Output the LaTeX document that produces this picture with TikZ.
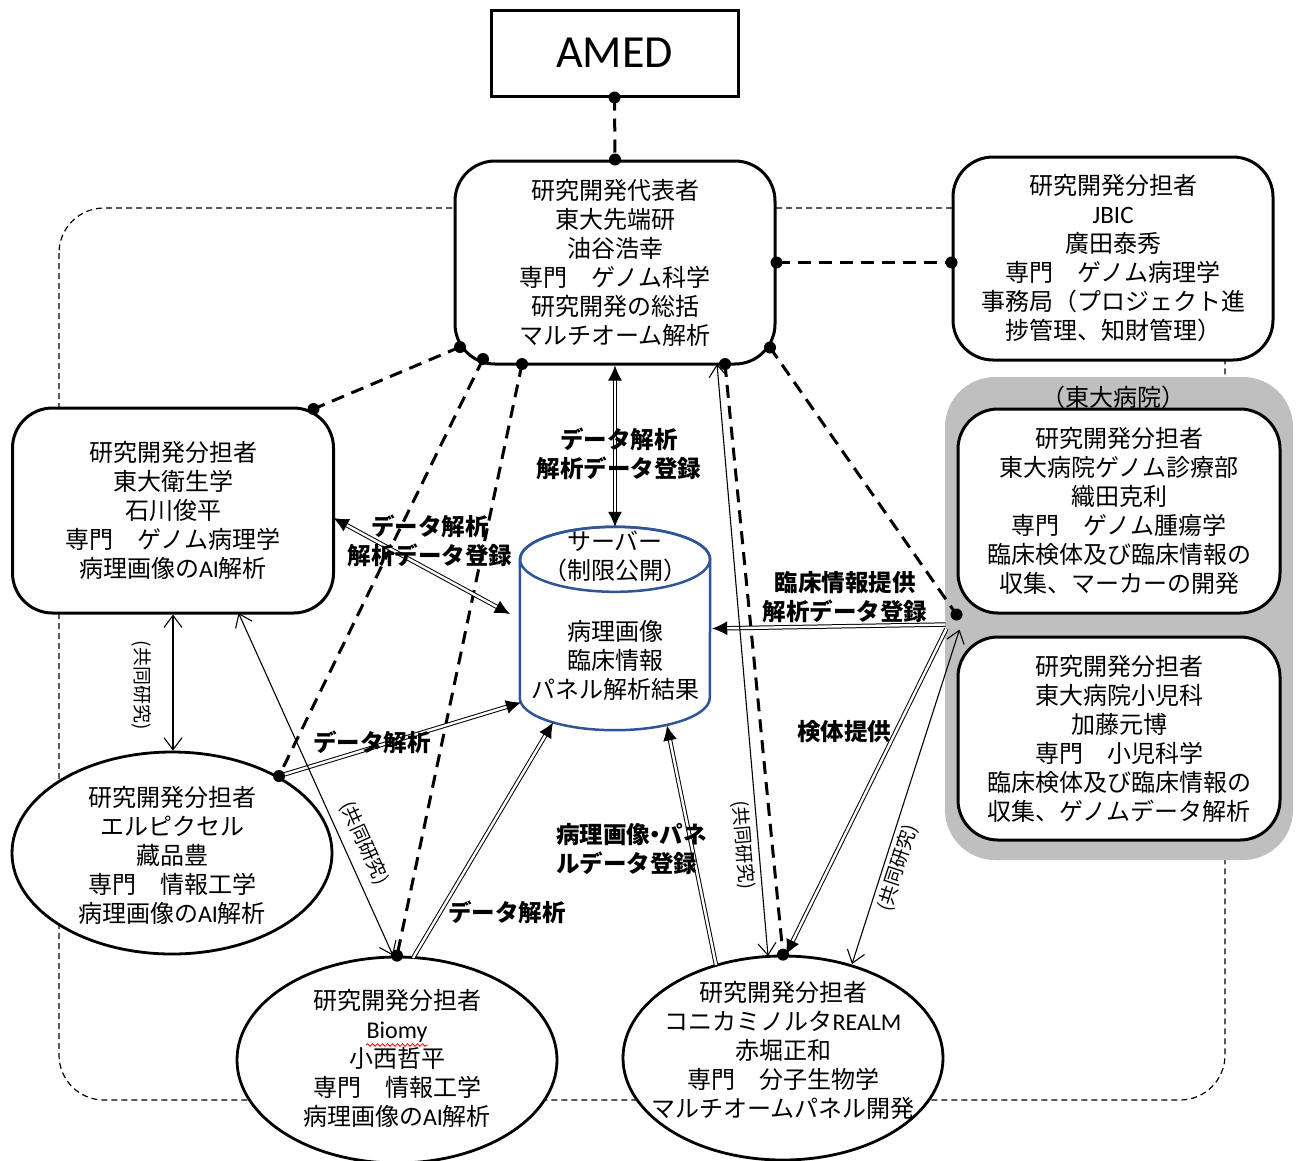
\documentclass[tikz,border=0pt]{standalone}
\usepackage{fontspec}
\setmainfont{Noto Sans CJK JP}
\newfontfamily\lat{Carlito}
\usetikzlibrary{arrows.meta,calc,shapes.geometric,decorations.pathmorphing}
\definecolor{srvblue}{RGB}{47,85,151}
\definecolor{grpgray}{RGB}{191,191,191}
\tikzset{
  box/.style={draw, line width=3pt, rounded corners=40pt, fill=white, align=center, inner sep=0pt, font=\fontsize{24}{29}\selectfont},
  ell/.style={draw, ellipse, line width=2.8pt, fill=white, inner sep=0pt, minimum width=320pt},
  txt/.style={align=center, inner sep=0pt, font=\fontsize{24}{29}\selectfont},
  lbl/.style={align=center, inner sep=0pt, font=\bfseries\fontsize{23.5}{29}\selectfont},
  kyo/.style={inner sep=0pt, font=\fontsize{19}{20}\selectfont},
  thickdash/.style={line width=3pt, dash pattern=on 13pt off 8pt},
  dbl/.style={draw, double, double distance=2.4pt, line width=1pt},
  tipA/.style={-{Latex[length=15pt,width=14pt]}},
  tipAA/.style={{Latex[length=15pt,width=14pt]}-{Latex[length=15pt,width=14pt]}},
  thinarrow/.style={line width=1.1pt, {Straight Barb[length=12pt,width=18pt]}-{Straight Barb[length=12pt,width=18pt]}},
  outerdash/.style={line width=1.2pt, dash pattern=on 6pt off 4pt, rounded corners=45pt},
}
\begin{document}
\begin{tikzpicture}[x=1pt,y=-1pt]
\useasboundingbox (0,0) rectangle (1298,1160);

% outer dashed frame
\draw[outerdash] (59,208) rectangle (1225,1100);

% grey group
\node[fill=grpgray, rounded corners=50pt, minimum width=348pt, minimum height=483pt, inner sep=0pt] (grp) at (1119,618.5) {};
\node[txt] (grplbl) at (1113,397) {（東大病院）};

% nodes
\node[draw, line width=3pt, fill=white, minimum width=247pt, minimum height=86pt, inner sep=0pt, font=\lat\fontsize{46}{46}\selectfont] (amed) at (614.5,53) {AMED};
\node[box, minimum width=320pt, minimum height=203pt] (pi) at (615,262.5)
  {研究開発代表者\\東大先端研\\油谷浩幸\\専門　ゲノム科学\\研究開発の総括\\マルチオーム解析};
\node[box, minimum width=320pt, minimum height=203pt] (jbic) at (1113,258.5)
  {研究開発分担者\\{\lat\fontsize{25}{29}\selectfont JBIC}\\廣田泰秀\\専門　ゲノム病理学\\事務局（プロジェクト進\\捗管理、知財管理）};
\node[box, minimum width=321pt, minimum height=205pt] (ish) at (173,510.5)
  {研究開発分担者\\東大衛生学\\石川俊平\\専門　ゲノム病理学\\病理画像の{\lat AI}解析};
\node[box, minimum width=322pt, minimum height=204pt] (oda) at (1119,511)
  {研究開発分担者\\東大病院ゲノム診療部\\織田克利\\専門　ゲノム腫瘍学\\臨床検体及び臨床情報の\\収集、マーカーの開発};
\node[box, minimum width=322pt, minimum height=203pt] (kato) at (1119,738.5)
  {研究開発分担者\\東大病院小児科\\加藤元博\\専門　小児科学\\臨床検体及び臨床情報の\\収集、ゲノムデータ解析};

% server cylinder
\node[minimum width=190pt, minimum height=203pt, inner sep=0pt] (srv) at (615,628.5) {};
\draw[srvblue, line width=2.5pt, fill=white]
  ($(srv.north west)+(0,32.5)$) -- ($(srv.south west)+(0,-32.5)$)
  arc[start angle=180, end angle=360, x radius=95pt, y radius=32.5pt]
  -- ($(srv.north east)+(0,32.5)$)
  arc[start angle=0, end angle=180, x radius=95pt, y radius=32.5pt] -- cycle;
\draw[srvblue, line width=2.5pt] ($(srv.north)+(0,32.5)$) ellipse [x radius=95pt, y radius=32.5pt];
\node[txt] (srvt1) at ($(srv.north)+(0,30)$) {サーバー\\（制限公開）};
\node[txt] (srvt2) at ($(srv.center)+(0,32)$) {病理画像\\臨床情報\\パネル解析結果};

% ellipses
\node[ell, minimum height=202pt] (kura) at (172,853) {};
\node[txt] (kurat) at (172,855) {研究開発分担者\\エルピクセル\\藏品豊\\専門　情報工学\\病理画像の{\lat AI}解析};
\node[ell, minimum height=206pt] (biomy) at (397,1060) {};
\node[txt] (biomyt) at (397,1058) {研究開発分担者\\{\lat Biomy}\\小西哲平\\専門　情報工学\\病理画像の{\lat AI}解析};
\draw[red, line width=0.8pt, decorate, decoration={snake, amplitude=1.3pt, segment length=5pt}]
  ($(biomy.center)+(-31,-15)$) -- ($(biomy.center)+(31,-15)$);
\node[ell, minimum height=204pt] (konica) at (783,1058) {};
\node[txt] (konicat) at (783,1050) {研究開発分担者\\コニカミノルタ{\lat REALM}\\赤堀正和\\専門　分子生物学\\マルチオームパネル開発};

% attach points
\coordinate (piA) at ($(pi.center)+(-155,84.5)$);
\coordinate (piB) at ($(pi.center)+(-132,96.5)$);
\coordinate (piC) at ($(pi.center)+(-93,101.5)$);
\coordinate (piD) at ($(pi.center)+(102,101.5)$);
\coordinate (piE) at ($(pi.center)+(110,101.5)$);
\coordinate (piF) at ($(pi.center)+(155,85)$);
\coordinate (ishA) at ($(ish.center)+(140.5,-101.5)$);
\coordinate (ishB) at ($(ish.center)+(160.5,7.5)$);
\coordinate (ishC) at ($(ish.center)+(65.5,102.5)$);
\coordinate (kuraA) at ($(kura.center)+(107,-77)$);
\coordinate (biomyA) at ($(biomy.center)+(16,-102)$);
\coordinate (biomyB) at ($(biomy.north)+(-4,0)$);
\coordinate (konA) at ($(konica.center)+(-67,-93)$);
\coordinate (konB) at ($(konica.center)+(-15,-102)$);
\coordinate (konC) at ($(konica.north)+(3,0)$);
\coordinate (konD) at ($(konica.center)+(69,-94)$);
\coordinate (grpA) at ($(oda.south west)+(-11,10)$);
\coordinate (grpB) at ($(kato.north west)+(-10,-7)$);
\coordinate (grpC) at ($(kato.north west)+(3,-6)$);
\coordinate (jbA) at (pi.east -| jbic.west);
\coordinate (srvA) at ($(srv.center)+(-105,-14.5)$);
\coordinate (srvB) at ($(srv.center)+(-94,74)$);
\coordinate (srvC) at ($(srv.center)+(-62,94)$);
\coordinate (srvD) at ($(srv.center)+(52,97)$);
\coordinate (srvE) at ($(srv.east)+(2,0)$);

% thick dashed links
\draw[thickdash] (amed.south) -- (pi.north);
\draw[thickdash] (pi.east) -- (jbA);
\draw[thickdash] (piA) -- (ishA);
\draw[thickdash] (piB) -- (kuraA);
\draw[thickdash] (piC) -- (biomy.north);
\draw[thickdash] (piE) -- (konica.north);
\draw[thickdash] (piF) -- (oda.south west);

% double arrows
\draw[dbl, tipAA] (pi.south) -- (srv.north);
\draw[dbl, tipAA] (ishB) -- (srvA);
\draw[dbl, tipA] (kuraA) -- (srvB);
\draw[dbl, tipA] (biomyA) -- (srvC);
\draw[dbl, tipA] (konA) -- (srvD);
\draw[dbl, tipA] (grpA) -- (srvE);
\draw[dbl, tipA] (grpB) -- (konC);

% thin joint-research arrows
\draw[thinarrow] (ish.south) -- (ish.south |- kura.north);
\draw[thinarrow] (ishC) -- (biomyB);
\draw[thinarrow] (piD) -- (konB);
\draw[thinarrow] (konD) -- (grpC);

% dots
\foreach \p in {amed.south, pi.north, pi.east, jbA, piA, ishA, piB, kuraA, piC, biomy.north, piE, konica.north, piF, oda.south west}
  \fill (\p) circle (6pt);

% labels
\node[lbl] (lH) at (619,454) {データ解析\\解析データ登録};
\node[lbl] (lI) at (430,540.5) {データ解析\\解析データ登録};
\node[lbl] (lL) at (372,742) {データ解析};
\node[lbl] (lM) at (507,912) {データ解析};
\node[lbl, align=left, anchor=west] (lN) at (556,849.5) {病理画像\kern-7pt・\kern-7ptパネ\\ルデータ登録};
\node[lbl] (lP) at (845,597) {臨床情報提供\\解析データ登録};
\node[lbl] (lQ) at (844,732) {検体提供};
\node[kyo, rotate=-90] (lJ) at (142,685) {(共同研究)};
\node[kyo, rotate=-65.7] (lK) at (364,843) {(共同研究)};
\node[kyo, rotate=-85.1] (lO) at (743,845) {(共同研究)};
\node[kyo, rotate=71.9] (lR) at (898,868) {(共同研究)};
\end{tikzpicture}
\end{document}
